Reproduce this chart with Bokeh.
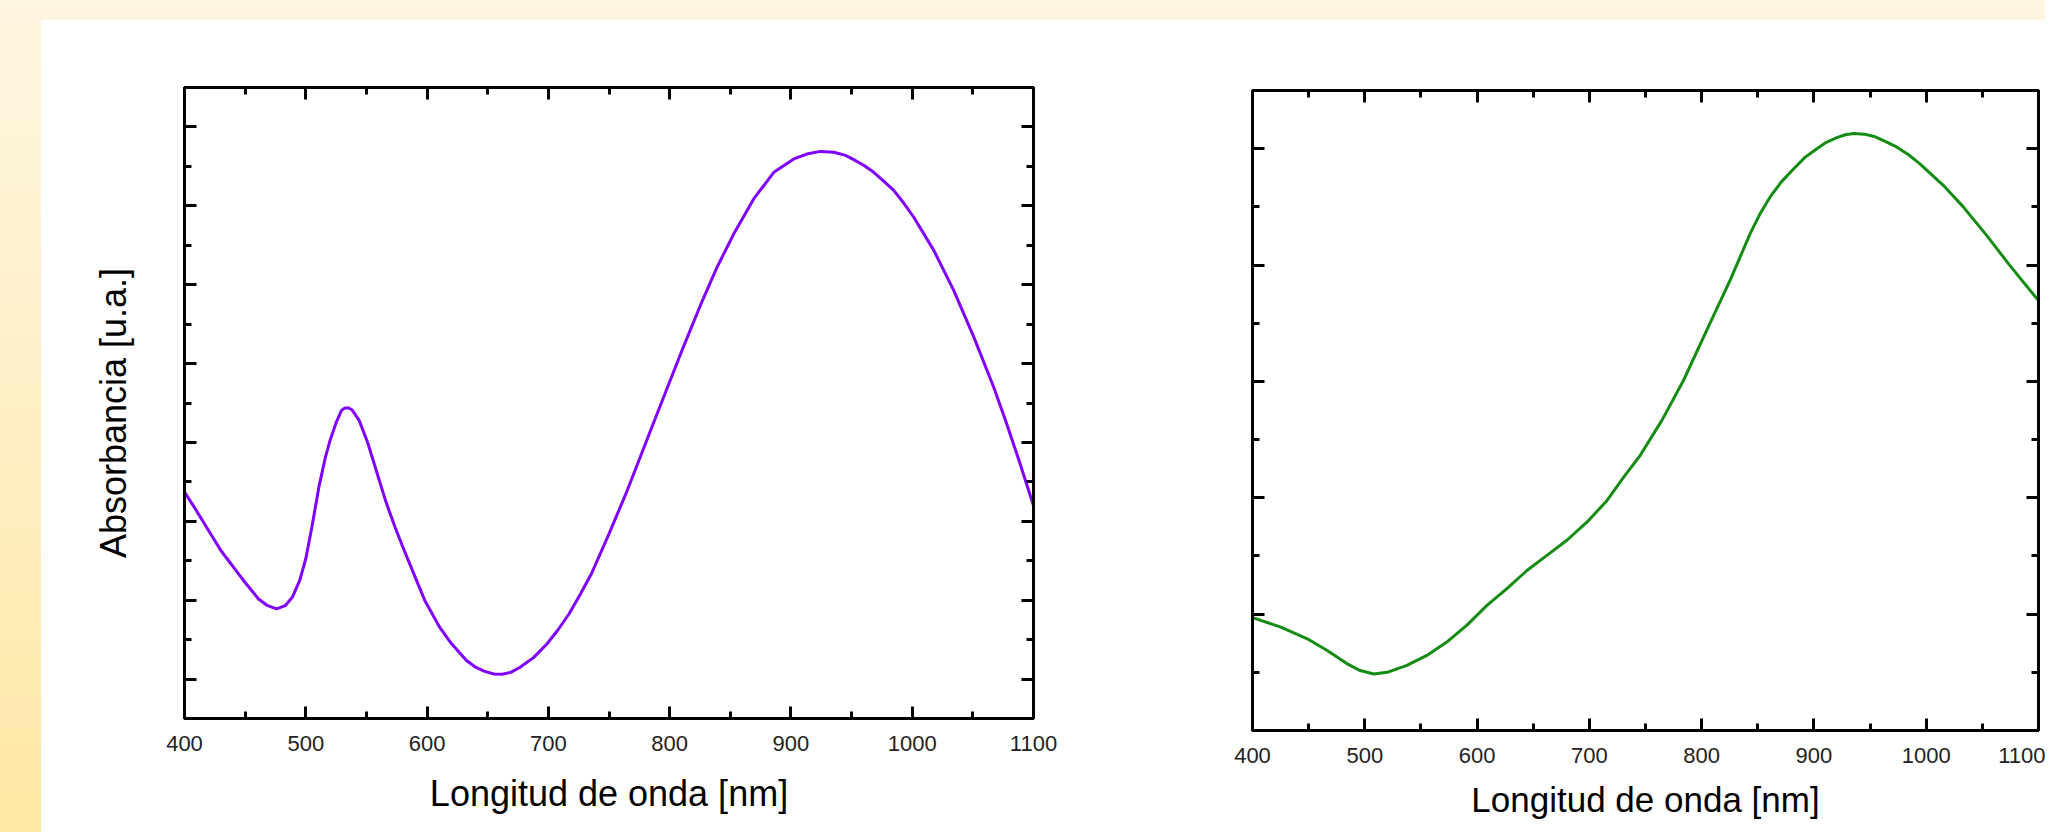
from bokeh.plotting import figure
from bokeh.models import Range1d, FixedTicker, LinearAxis, Spacer
from bokeh.layouts import row, column
from bokeh.embed import file_html
from bokeh.resources import INLINE

# ---------------- data ----------------
wl_a = [400, 408, 430, 448.6, 461, 468, 476, 483, 489, 495, 500, 505, 511, 516, 520,
        525, 529.4, 532, 535, 538, 544, 551, 559, 566, 573.6, 580, 588, 598, 610.5,
        620, 632.5, 640, 647, 655, 662, 669, 676.7, 688, 698.8, 708, 717, 726, 735.5,
        750, 765, 779.7, 788.3, 798, 811.7, 825.4, 839.2, 852.9, 869.4, 885.9, 902.4,
        914, 924.4, 935.3, 945, 951.8, 960, 968.3, 976, 984.8, 993, 1001.3, 1017.8,
        1034.3, 1050.8, 1067.2, 1076.9, 1088, 1100]
abs_a = [0.574, 0.536, 0.426, 0.350, 0.303, 0.287, 0.278, 0.286, 0.308, 0.350, 0.405,
         0.485, 0.590, 0.660, 0.705, 0.750, 0.781, 0.787, 0.788, 0.783, 0.756, 0.700,
         0.620, 0.550, 0.485, 0.435, 0.375, 0.300, 0.231, 0.190, 0.147, 0.130, 0.120,
         0.113, 0.112, 0.117, 0.130, 0.155, 0.189, 0.225, 0.265, 0.313, 0.367, 0.468,
         0.578, 0.694, 0.762, 0.838, 0.945, 1.048, 1.145, 1.229, 1.318, 1.385, 1.419,
         1.432, 1.438, 1.436, 1.428, 1.417, 1.403, 1.385, 1.364, 1.339, 1.307, 1.271,
         1.187, 1.085, 0.967, 0.840, 0.756, 0.655, 0.540]

wl_b = [400, 424.7, 448.4, 466.2, 484, 495.9, 508, 519.9, 537.5, 555.3, 573, 591,
        608.8, 626.6, 644.4, 662.2, 680, 697.8, 715.6, 730.4, 745.3, 764.6, 783.9,
        804.6, 825.4, 843.2, 852, 861, 871, 881.8, 892, 902.6, 911, 920.4, 928, 935.4,
        945, 953.7, 963, 973.6, 984, 994.4, 1015.2, 1033, 1053.8, 1074.6, 1100]
abs_b = [0.194, 0.178, 0.158, 0.138, 0.115, 0.103, 0.097, 0.100, 0.112, 0.129, 0.152,
         0.181, 0.215, 0.244, 0.275, 0.301, 0.327, 0.358, 0.395, 0.435, 0.473, 0.533,
         0.602, 0.688, 0.774, 0.854, 0.888, 0.917, 0.943, 0.965, 0.985, 1.000, 1.011,
         1.019, 1.024, 1.026, 1.025, 1.021, 1.013, 1.003, 0.990, 0.974, 0.937, 0.900,
         0.851, 0.799, 0.739]

x_major = [400, 500, 600, 700, 800, 900, 1000, 1100]
x_minor = [450, 550, 650, 750, 850, 950, 1050]
x_labels = {v: str(v) for v in x_major}

ya_major = [0.1, 0.3, 0.5, 0.7, 0.9, 1.1, 1.3, 1.5]
ya_minor = [0.2, 0.4, 0.6, 0.8, 1.0, 1.2, 1.4]
yb_major = [0.2, 0.4, 0.6, 0.8, 1.0]
yb_minor = [0.1, 0.3, 0.5, 0.7, 0.9]

x_title = "Longitud de onda [nm]"
y_title = "Absorbancia [u.a.]"

FONT = "Liberation Sans"
LW = 3


def style_axis(ax, major, minor, labels=False, label_size="22px", standoff=12):
    ax.ticker = FixedTicker(ticks=major, minor_ticks=minor)
    ax.major_tick_in = 12
    ax.major_tick_out = 0
    ax.minor_tick_in = 7
    ax.minor_tick_out = 0
    ax.major_tick_line_width = LW
    ax.minor_tick_line_width = LW
    ax.major_tick_line_color = "black"
    ax.minor_tick_line_color = "black"
    ax.axis_line_color = "black"
    ax.axis_line_width = LW
    if labels:
        ax.major_label_text_font = FONT
        ax.major_label_text_font_size = label_size
        ax.major_label_text_color = "#222222"
        ax.major_label_standoff = standoff
    else:
        ax.major_label_text_font_size = "0px"
        ax.major_label_text_color = None
        ax.major_label_standoff = 0


def set_title(ax, text, standoff, size="35px"):
    ax.axis_label = text
    ax.axis_label_text_font = FONT
    ax.axis_label_text_font_size = size
    ax.axis_label_text_font_style = "normal"
    ax.axis_label_text_color = "black"
    ax.axis_label_standoff = standoff


def make_fig(width, height, yr, borders):
    l, r, t, b = borders
    p = figure(width=width, height=height, x_range=Range1d(400, 1100), y_range=yr,
               output_backend="svg", toolbar_location=None,
               min_border_left=l, min_border_right=r, min_border_top=t,
               min_border_bottom=b)
    p.xgrid.visible = False
    p.ygrid.visible = False
    p.background_fill_color = "white"
    p.border_fill_color = "white"
    p.outline_line_color = "black"
    p.outline_line_width = LW
    return p


# ---------------- left plot ----------------
p1 = make_fig(1089, 812, Range1d(0, 1.6), (143, 97, 67, 114))
style_axis(p1.xaxis[0], x_major, x_minor, labels=True, standoff=17)
p1.xaxis[0].major_label_overrides = x_labels
set_title(p1.xaxis[0], x_title, 19, "36px")
style_axis(p1.yaxis[0], ya_major, ya_minor)
# two no-break spaces nudge the rotated title down to where the original sits
set_title(p1.yaxis[0], y_title + "\u00a0\u00a0", 51, "36px")
ax_t1 = LinearAxis()
style_axis(ax_t1, x_major, x_minor)
p1.add_layout(ax_t1, "above")
ax_r1 = LinearAxis()
style_axis(ax_r1, ya_major, ya_minor)
p1.add_layout(ax_r1, "right")
p1.line(wl_a, abs_a, line_color="#8000FF", line_width=3)

# ---------------- right plot ----------------
p2 = make_fig(915, 812, Range1d(0, 1.1), (122, 7, 70, 102))
style_axis(p2.xaxis[0], x_major, x_minor, labels=True, standoff=17)
p2.xaxis[0].major_label_overrides = x_labels
set_title(p2.xaxis[0], x_title, 14, "35px")
style_axis(p2.yaxis[0], yb_major, yb_minor)
ax_t2 = LinearAxis()
style_axis(ax_t2, x_major, x_minor)
p2.add_layout(ax_t2, "above")
ax_r2 = LinearAxis()
style_axis(ax_r2, yb_major, yb_minor)
p2.add_layout(ax_r2, "right")
p2.line(wl_b, abs_b, line_color="#148C14", line_width=3)

# ---------------- page layout ----------------
top_strip = Spacer(width=2045, height=20)
left_strip = Spacer(width=41, height=812)
plots = row(column(p1), column(p2), spacing=0, styles={"background": "white"})
layout = column(top_strip, row(left_strip, plots, spacing=0), spacing=0,
                width=2045, height=832,
                styles={"background": "linear-gradient(180deg, #FFF6E0 0%, #FFEFC6 50%, #FFE7A3 100%)"})

open("out.html", "w").write(file_html(layout, INLINE))
